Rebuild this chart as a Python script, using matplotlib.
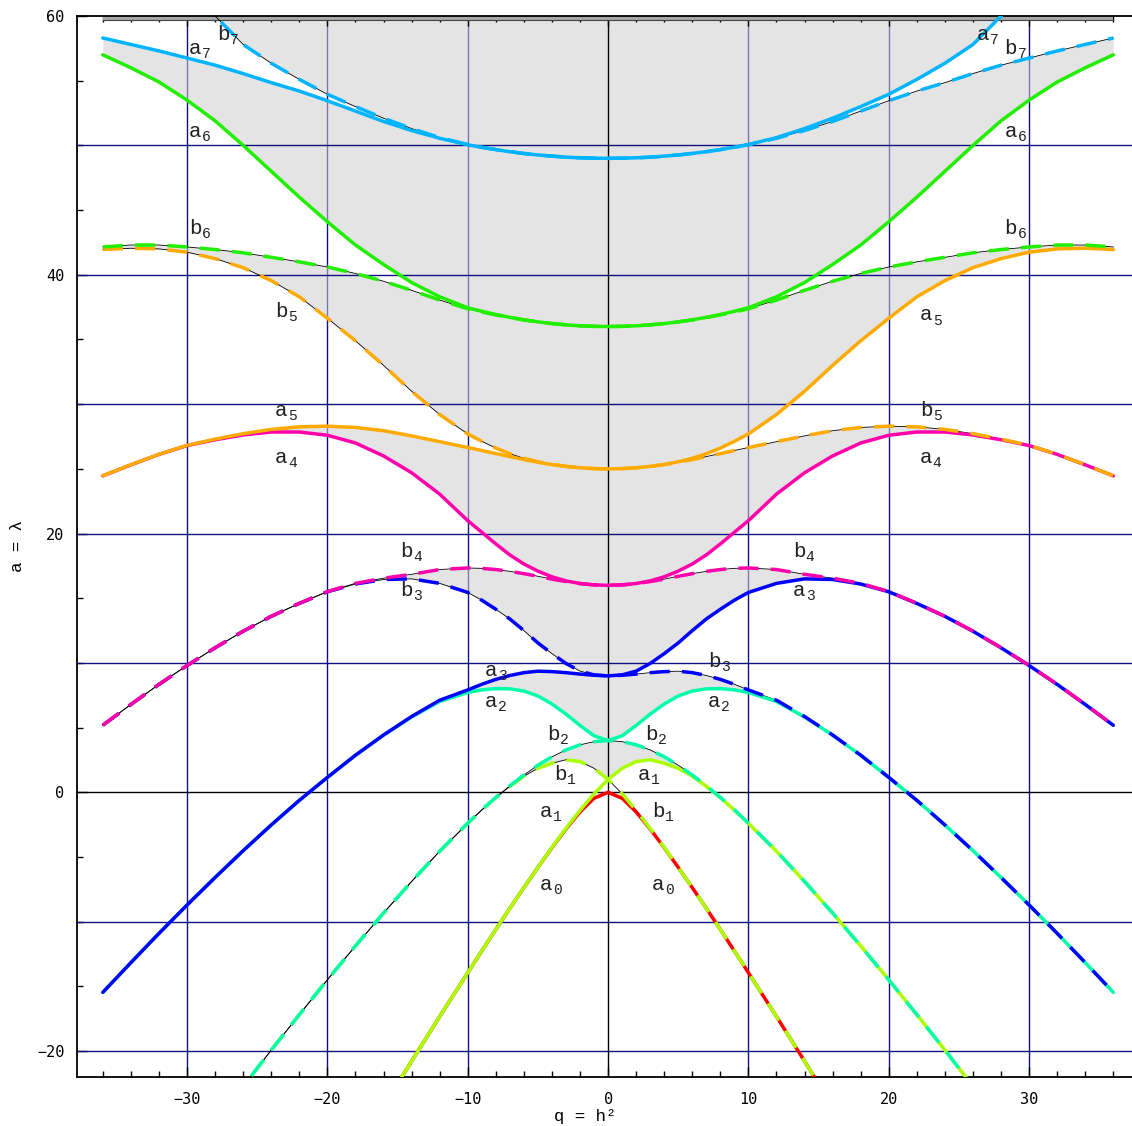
import numpy as np
import matplotlib.pyplot as plt

# characteristic values for q >= 0
q_half = [0, 1, 2, 3, 4, 5, 6, 7, 8, 9, 10, 12, 14, 16, 18, 20, 22, 24, 26, 28, 30, 32, 34, 36]

a0 = [0, -0.455, -1.514, -2.834, -4.281, -5.800, -7.367, -8.966, -10.60, -12.26, -13.94, -17.33,
      -20.78, -24.26, -27.77, -31.31, -34.87, -38.45, -42.05, -45.67, -49.30, -52.94, -56.59, -60.25]
b1 = [1, -0.110, -1.391, -2.785, -4.256, -5.790, -7.364, -8.965, -10.60, -12.26, -13.937, -17.33,
      -20.78, -24.26, -27.77, -31.31, -34.87, -38.45, -42.05, -45.67, -49.30, -52.94, -56.59, -60.25]
a1 = [1, 1.859, 2.379, 2.519, 2.25, 1.858, 1.25, 0.46, -0.41, -1.37, -2.399, -4.56,
      -6.89, -9.33, -11.87, -14.49, -17.18, -19.92, -22.72, -25.56, -28.44, -31.36, -34.32, -37.30]
b2 = [4, 3.917, 3.672, 3.277, 2.747, 2.099, 1.34, 0.50, -0.39, -1.355, -2.382, -4.55,
      -6.89, -9.33, -11.87, -14.49, -17.18, -19.92, -22.72, -25.56, -28.44, -31.36, -34.32, -37.30]
a2 = [4, 4.371, 5.172, 6.05, 6.83, 7.449, 7.83, 8.00, 8.02, 7.92, 7.717, 7.02,
      5.82, 4.42, 2.86, 1.154, -0.62, -2.52, -4.51, -6.58, -8.71, -10.90, -13.16, -15.46]
b3 = [9, 9.048, 9.14, 9.25, 9.33, 9.364, 9.25, 9.03, 8.73, 8.35, 7.914, 7.12,
      5.86, 4.43, 2.87, 1.155, -0.62, -2.52, -4.51, -6.58, -8.71, -10.90, -13.16, -15.46]
a3 = [9, 9.078, 9.37, 9.96, 10.72, 11.549, 12.5, 13.4, 14.15, 14.85, 15.45, 16.15,
      16.5, 16.45, 16.1, 15.5, 14.6, 13.6, 12.45, 11.17, 9.80, 8.34, 6.79, 5.18]
b4 = [16, 16.033, 16.13, 16.29, 16.48, 16.7, 16.9, 17.08, 17.22, 17.31, 17.34, 17.22,
      16.85, 16.55, 16.15, 15.52, 14.61, 13.61, 12.46, 11.18, 9.81, 8.35, 6.80, 5.19]
a4 = [16, 16.033, 16.14, 16.34, 16.66, 17.097, 17.65, 18.35, 19.2, 20.1, 21.0, 23.05,
      24.7, 26.0, 27.0, 27.6, 27.85, 27.85, 27.62, 27.25, 26.8, 26.12, 25.31, 24.46]
b5 = [25, 25.021, 25.083, 25.19, 25.33, 25.51, 25.72, 25.95, 26.18, 26.42, 26.65, 27.1,
      27.55, 27.95, 28.2, 28.3, 28.25, 28.05, 27.72, 27.3, 26.82, 26.13, 25.32, 24.47]
a5 = [25, 25.021, 25.083, 25.19, 25.34, 25.55, 25.82, 26.17, 26.61, 27.13, 27.70, 29.2,
      31.0, 33.0, 34.9, 36.64, 38.3, 39.55, 40.55, 41.25, 41.75, 42.0, 42.05, 41.95]
b6 = [36, 36.014, 36.057, 36.13, 36.23, 36.36, 36.51, 36.7, 36.9, 37.12, 37.37, 38.05,
      38.8, 39.5, 40.1, 40.6, 41.0, 41.35, 41.7, 41.95, 42.15, 42.3, 42.3, 42.15]
a6 = [36, 36.014, 36.057, 36.13, 36.23, 36.36, 36.52, 36.71, 36.93, 37.18, 37.45, 38.3,
      39.4, 40.8, 42.3, 44.1, 46.0, 48.0, 50.0, 51.9, 53.5, 54.9, 56.0, 57.0]
b7 = [49, 49.01, 49.04, 49.09, 49.17, 49.26, 49.37, 49.51, 49.67, 49.84, 50.05, 50.55,
      51.15, 51.85, 52.65, 53.45, 54.2, 54.85, 55.55, 56.2, 56.75, 57.3, 57.8, 58.3]
a7 = [49, 49.01, 49.04, 49.09, 49.17, 49.26, 49.38, 49.52, 49.68, 49.86, 50.07, 50.6,
      51.3, 52.1, 53.0, 53.95, 55.1, 56.35, 57.8, 60.0, 62.2, 64.4, 66.5, 68.6]

a_half = [a0, a1, a2, a3, a4, a5, a6, a7]
b_half = [None, b1, b2, b3, b4, b5, b6, b7]

colors = ['#ff0000', '#aaff00', '#00ffaa', '#0000ff', '#ff00aa', '#ffaa00', '#22ee00', '#00b4ff']

# curve labels (letter, order, q, value)
labels = [
    ('b', 7, -27.1, 58.6), ('a', 7, -29.1, 57.5), ('a', 6, -29.1, 51.1), ('b', 6, -29.1, 43.6),
    ('b', 5, -23.0, 37.2), ('a', 5, -23.0, 29.5), ('a', 4, -23.0, 25.9), ('b', 4, -14.1, 18.6),
    ('b', 3, -14.1, 15.6), ('a', 3, -8.05, 9.4), ('a', 2, -8.05, 7.0), ('b', 2, -3.6, 4.5),
    ('b', 1, -3.1, 1.4), ('a', 1, -4.1, -1.5), ('a', 0, -4.1, -7.1),
    ('a', 7, 27.0, 58.6), ('b', 7, 29.0, 57.5), ('a', 6, 29.0, 51.1), ('b', 6, 29.0, 43.6),
    ('a', 5, 22.95, 36.9), ('b', 5, 22.95, 29.5), ('a', 4, 22.95, 25.9), ('b', 4, 13.9, 18.6),
    ('a', 3, 13.9, 15.6), ('b', 3, 7.84, 10.1), ('a', 2, 7.84, 7.0), ('b', 2, 3.4, 4.5),
    ('a', 1, 2.85, 1.4), ('b', 1, 3.85, -1.5), ('a', 0, 3.85, -7.1),
]

qh = np.array(q_half, dtype=float)
q = np.r_[-qh[:0:-1], qh]

A, B = {}, {}
for r in range(8):
    a = np.array(a_half[r], dtype=float)
    if r == 0:
        A[r] = np.r_[a[:0:-1], a]
        continue
    b = np.array(b_half[r], dtype=float)
    if r % 2 == 0:
        A[r] = np.r_[a[:0:-1], a]
        B[r] = np.r_[b[:0:-1], b]
    else:
        # odd orders swap a and b for negative q
        A[r] = np.r_[b[:0:-1], a]
        B[r] = np.r_[a[:0:-1], b]

fig = plt.figure(figsize=(11.32, 11.26), dpi=100)
ax = fig.add_axes([77 / 1132, 49 / 1126, 1055 / 1132, 1061 / 1126])
ax.set_xlim(-37.84, 37.33)
ax.set_ylim(-22, 60)

navy = '#101080'
for x in [-30, -20, -10, 10, 20, 30]:
    ax.axvline(x, color=navy, lw=1.0, zorder=1)
for y in [-20, -10, 10, 20, 30, 40, 50]:
    ax.axhline(y, color=navy, lw=1.0, zorder=1.8)
ax.axvline(0, color='black', lw=1.0, zorder=1.8)
ax.axhline(0, color='black', lw=1.0, zorder=1.8)

# stable regions
for r in range(1, 8):
    lo = np.maximum(A[r], B[r])
    hi = np.minimum(A[r + 1], B[r + 1]) if r < 7 else np.full_like(q, 60.0)
    ax.fill_between(q, lo, hi, where=hi > lo, interpolate=True,
                    color=(0.81, 0.81, 0.81), alpha=0.55, lw=0, zorder=1.5)

ax.fill_between([-36, 36], 59.68, 60, color='#a8a8a8', lw=0, zorder=1.9)
ax.plot([-36, 36], [59.68, 59.68], color='#444444', lw=0.8, zorder=1.9)

for r in range(1, 8):
    ax.plot(q, A[r], color='black', lw=0.6, zorder=2)
    ax.plot(q, B[r], color='black', lw=0.6, zorder=2)

for r in range(8):
    ax.plot(q, A[r], color=colors[r], lw=2.5, zorder=3, solid_capstyle='round')
    if r > 0:
        ax.plot(q, B[r], color=colors[r], lw=2.5, zorder=3, ls=(0, (5.8, 3.5)))

for kind, r, x, y in labels:
    ax.annotate(kind, (x, y), xytext=(-3, -4), textcoords='offset points',
                ha='center', va='baseline', family='Liberation Mono', fontsize=15,
                color='#222222', zorder=4)
    ax.annotate(str(r), (x, y), xytext=(5, -7), textcoords='offset points',
                ha='center', va='baseline', family='Liberation Mono', fontsize=10.5,
                color='#222222', zorder=4)

ax.set_xticks([-30, -20, -10, 0, 10, 20, 30])
ax.set_xticks(np.arange(-36, 37, 2), minor=True)
ax.set_yticks([-20, 0, 20, 40, 60])
ax.set_yticks(np.arange(-20, 61, 5), minor=True)
ax.tick_params(which='both', direction='in', top=True, right=False, width=1)
ax.tick_params(which='major', length=7)
ax.tick_params(which='minor', length=4)
ax.tick_params(axis='x', pad=11)
ax.tick_params(axis='y', pad=9)
for lab in ax.get_xticklabels() + ax.get_yticklabels():
    lab.set_fontfamily('DejaVu Sans Mono')
    lab.set_fontsize(11)

ax.spines['right'].set_visible(False)
for s in ['left', 'bottom', 'top']:
    ax.spines[s].set_linewidth(1.3)

fig.text(17 / 1132, 1 - 546 / 1126, 'a = λ', rotation=90, ha='center', va='center',
         family='Liberation Mono', fontsize=12.5)
fig.text(585 / 1132, 1 - 1117 / 1126, 'q = h²', ha='center', va='center',
         family='Liberation Mono', fontsize=12.5)

fig.savefig('out.png', dpi=100)
